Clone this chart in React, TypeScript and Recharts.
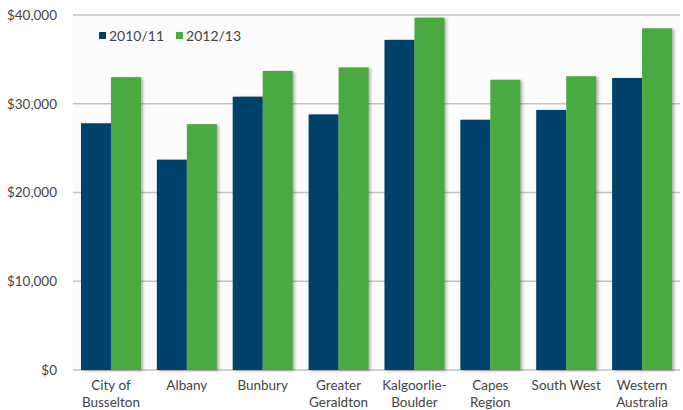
import { BarChart, Bar, XAxis, YAxis, CartesianGrid } from "recharts"

const regions = [
  "City of|Busselton",
  "Albany",
  "Bunbury",
  "Greater|Geraldton",
  "Kalgoorlie-|Boulder",
  "Capes|Region",
  "South West",
  "Western|Australia",
]
const income2010 = [27800, 23700, 30800, 28800, 37200, 28200, 29300, 32900]
const income2012 = [33000, 27700, 33700, 34100, 39700, 32700, 33100, 38500]
const yTicks = [0, 10000, 20000, 30000, 40000]

const BLUE = "#00426b"
const GREEN = "#4aaa42"
const FONT = "Lato, 'Open Sans', sans-serif"

const data = regions.map((r, i) => ({
  region: r,
  y2010: income2010[i],
  y2012: income2012[i],
}))

function RegionTick(props: any) {
  const { x, y, payload } = props
  const lines = String(payload.value).split("|")
  return (
    <text x={x} y={y} textAnchor="middle" fill="#444" fontSize={13.5} fontFamily={FONT}>
      {lines.map((l, i) => (
        <tspan key={i} x={x} dy={i === 0 ? 12 : 17}>
          {l}
        </tspan>
      ))}
    </text>
  )
}

function ShadowBar(props: any) {
  const { x, y, width, height, fill } = props
  if (!height || height <= 0) return null
  return (
    <rect
      x={x}
      y={y}
      width={width}
      height={height}
      fill={fill}
      style={{ filter: "drop-shadow(2px 1px 1.5px rgba(0,0,0,0.3))" }}
    />
  )
}

const legendItems = [
  { label: "2010/11", color: BLUE },
  { label: "2012/13", color: GREEN },
]

export default function App() {
  return (
    <div style={{ position: "absolute", left: 0, top: 0, width: 683, height: 410, background: "#fff" }}>
      <BarChart
        width={683}
        height={410}
        data={data}
        margin={{ top: 15, right: 3, left: 0, bottom: 0 }}
        barCategoryGap="10.5%"
        barGap={0}
      >
        <CartesianGrid vertical={false} stroke="#c4c4c4" strokeWidth={1.5} fill="#fcfcfc" />
        <XAxis
          dataKey="region"
          height={40}
          axisLine={false}
          tickLine={false}
          interval={0}
          tick={<RegionTick />}
        />
        <YAxis
          width={73}
          domain={[0, 40000]}
          ticks={yTicks}
          axisLine={false}
          tickLine={false}
          tickMargin={10}
          tick={{ fill: "#444", fontSize: 13.5, fontFamily: FONT }}
          tickFormatter={(v: number) => `$${v.toLocaleString("en-US")}`}
        />
        <Bar dataKey="y2010" name="2010/11" fill={BLUE} shape={<ShadowBar />} isAnimationActive={false} />
        <Bar dataKey="y2012" name="2012/13" fill={GREEN} shape={<ShadowBar />} isAnimationActive={false} />
      </BarChart>
      <div
        style={{
          position: "absolute",
          left: 99,
          top: 27,
          display: "flex",
          gap: 12,
          fontFamily: FONT,
          fontSize: 14,
          color: "#444",
        }}
      >
        {legendItems.map((it) => (
          <div key={it.label} style={{ display: "flex", alignItems: "center" }}>
            <span style={{ width: 7, height: 7, background: it.color, marginRight: 3 }} />
            <span>{it.label}</span>
          </div>
        ))}
      </div>
    </div>
  )
}
